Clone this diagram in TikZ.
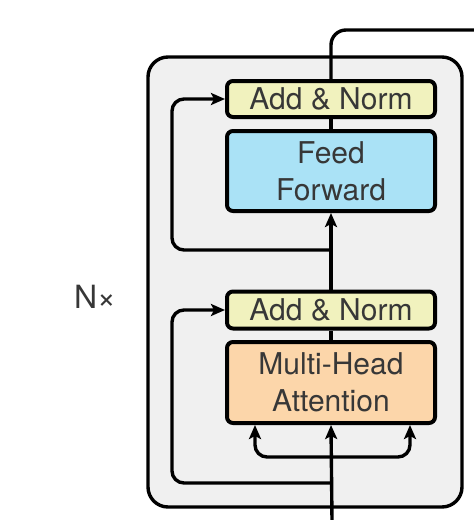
\documentclass[tikz,border=0pt]{standalone}
\usepackage{fontspec}
\setmainfont{TeX Gyre Heros}
\usetikzlibrary{arrows.meta,calc}

\definecolor{layergray}{RGB}{240,240,240}
\definecolor{normyellow}{RGB}{241,242,190}
\definecolor{ffblue}{RGB}{170,226,246}
\definecolor{attnorange}{RGB}{252,214,170}
\definecolor{textgray}{RGB}{55,55,55}

\tikzset{
	block/.style={draw=black, line width=4pt, rounded corners=6pt, minimum width=208pt, inner sep=0pt, align=center, text=textgray, font=\fontsize{30}{37}\selectfont},
	wire/.style={line width=3.4pt},
	tip/.style={-{Stealth[length=14pt,width=12pt,inset=3pt]}},
	arr/.style={wire, tip},
}

\begin{document}
\begin{tikzpicture}[x=1pt, y=-1pt]
			%%%%% START %%%%%
			
			\useasboundingbox (0,0) rectangle (474,520);
			
			\draw[line width=3.4pt, fill=layergray, rounded corners=20pt] (148,57) rectangle (462,507);
			
			\node[text=textgray, font=\fontsize{32}{36}\selectfont] (nx) at (95,297) {N×};
			
			\node[block, fill=normyellow, minimum height=36pt] (addtop) at (331,99) {Add \& Norm};
			\node[block, fill=ffblue, minimum height=80pt] (ff) at (331,171) {Feed\\Forward};
			\node[block, fill=normyellow, minimum height=37pt] (addbot) at (331,310) {Add \& Norm};
			\node[block, fill=attnorange, minimum height=81pt] (mha) at (331,382.5) {Multi-Head\\Attention};
			
			\coordinate (in) at (332,520);
			\coordinate (fork) at (332,457);
			\coordinate (skipbot) at (332,483);
			\coordinate (skiptop) at (332,250);
			\coordinate (out) at (474,30);
			
			% main path
			\draw[arr] (in) -- (mha.south);
			\draw[wire] (mha.north) -- (addbot.south);
			\draw[arr] (addbot.north) -- (ff.south);
			\draw[wire] (ff.north) -- (addtop.south);
			\draw[wire, rounded corners=15pt] (addtop.north) |- (out);
			
			% query / key / value
			\draw[wire, {Stealth[length=14pt,width=12pt,inset=3pt]}-{Stealth[length=14pt,width=12pt,inset=3pt]}, rounded corners=12pt] ([xshift=-76pt]mha.south) |- (fork) -| ([xshift=79pt]mha.south);
			
			% residuals
			\draw[arr, rounded corners=12pt] (skipbot) -| ([xshift=-53pt]addbot.west) -- (addbot.west);
			\draw[arr, rounded corners=12pt] (skiptop) -| ([xshift=-53pt]addtop.west) -- (addtop.west);
			
			%%%%% END %%%%%
		\end{tikzpicture}
\end{document}
